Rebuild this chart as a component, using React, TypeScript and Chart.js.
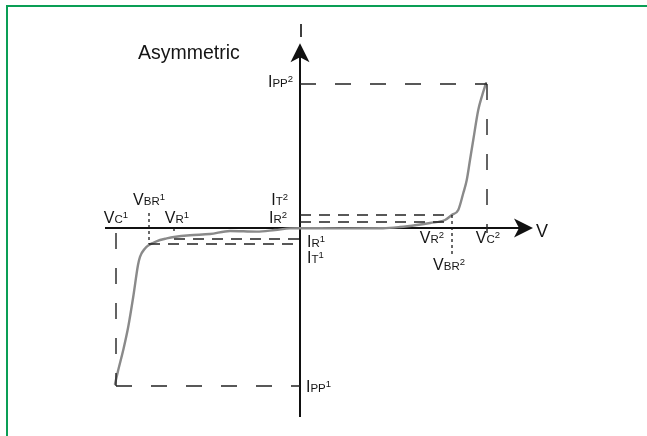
import React, { useEffect, useRef } from "react";
import { Chart, registerables } from "chart.js";

Chart.register(...registerables);

// ---- I-V characteristic (schematic units: V on x, I on y) ----
const curveV = [-14.8, -14.54, -14.14, -13.74, -13.34, -12.96, -12.8, -12.4, -12.08, -11.74, -11.2, -10.66, -10.08, -8.8, -7.2, -5.6, -3.46, -2.0, -0.8, 0, 3.2, 6.64, 8.0, 9.34, 10.4, 11.6, 12.14, 12.66, 13.06, 13.34, 13.6, 13.86, 14.26, 14.54, 14.88];
const curveI = [-39, -35.5, -30.5, -24.7, -17.2, -9.25, -7.2, -5.1, -4.25, -3.7, -3.0, -2.6, -2.25, -1.8, -1.5, -0.75, -0.9, -0.5, -0.1, -0.05, -0.1, -0.05, 0.25, 0.75, 1.25, 2.0, 3.25, 4.5, 8.7, 12, 17, 22, 29.5, 32.8, 36.2];

// ---- characteristic points ----
const VC1 = -14.72;
const VBR1 = -12.08;
const VR1 = -10.08;
const VR2 = 10.4;
const VBR2 = 12.16;
const VC2 = 14.96;
const IPP1 = -39.5;
const IT1 = -4;
const IR1 = -2.75;
const IR2 = 1.5;
const IT2 = 3.25;
const IPP2 = 36;
const IR2_END_V = 11.6;

// ---- axes extents ----
const axisV = [-15.6, 17.8];
const axisI = [-47.25, 44];
const V_TIP = 18.64;
const I_TIP = 46.2;

// ---- view window ----
const viewV = [-24, 27.76];
const viewI = [-52, 57];

// ---- text labels: main letter, small letters, superscript, anchor V, anchor I, alignment ----
const labelMain = ["V", "V", "V", "I", "I", "I", "I", "V", "V", "V", "I", "I"];
const labelSmall = ["C", "BR", "R", "T", "R", "R", "T", "R", "C", "BR", "PP", "PP"];
const labelSup = ["1", "1", "1", "2", "2", "1", "1", "2", "2", "2", "2", "1"];
const labelV = [VC1, VBR1, -9.85, -0.96, -1.04, 0.56, 0.56, 10.56, 15.04, 11.92, -0.56, 0.48];
const labelI = [1.25, 5.75, 1.25, 5.75, 1.25, -4.75, -8.75, -3.75, -3.75, -10.5, 35.25, -41];
const labelAlign = ["center", "center", "center", "right", "right", "left", "left", "center", "center", "center", "right", "left"];

const axisLabelText = ["V", "I"];
const axisLabelV = [18.88, 0.08];
const axisLabelI = [-2.25, 47.8];

const titleText = "Asymmetric";
const titleV = -12.96;
const titleI = 42.25;

const FONT = "'Liberation Sans', Arial, Helvetica, sans-serif";

function seg(points: number[][], color: string, width: number, dash: number[]) {
  return {
    data: points.map(([x, y]) => ({ x, y })),
    showLine: true,
    pointRadius: 0,
    pointHoverRadius: 0,
    borderColor: color,
    borderWidth: width,
    borderDash: dash,
    borderCapStyle: "butt",
    fill: false,
  };
}

function drawArrow(ctx: CanvasRenderingContext2D, tx: number, ty: number, dir: "right" | "up") {
  const L = 19, H = 9.5, N = 14;
  ctx.beginPath();
  if (dir === "right") {
    ctx.moveTo(tx, ty);
    ctx.lineTo(tx - L, ty - H);
    ctx.lineTo(tx - N, ty);
    ctx.lineTo(tx - L, ty + H);
  } else {
    ctx.moveTo(tx, ty);
    ctx.lineTo(tx - H, ty + L);
    ctx.lineTo(tx, ty + N);
    ctx.lineTo(tx + H, ty + L);
  }
  ctx.closePath();
  ctx.fillStyle = "#111";
  ctx.fill();
}

function drawLabel(ctx: CanvasRenderingContext2D, main: string, small: string, sup: string, x: number, y: number, align: string) {
  const parts = [
    { t: main, size: 16, rise: 0 },
    { t: small, size: 11.5, rise: 0 },
    { t: sup, size: 9.5, rise: 5 },
  ];
  let total = 0;
  const widths = parts.map((p) => {
    ctx.font = `${p.size}px ${FONT}`;
    const w = ctx.measureText(p.t).width;
    total += w;
    return w;
  });
  let cx = x;
  if (align === "center") cx = x - total / 2;
  else if (align === "right") cx = x - total;
  ctx.textAlign = "left";
  ctx.textBaseline = "alphabetic";
  ctx.fillStyle = "#151515";
  parts.forEach((p, k) => {
    ctx.font = `${p.size}px ${FONT}`;
    ctx.fillText(p.t, cx, y - p.rise);
    cx += widths[k];
  });
}

const overlayPlugin = {
  id: "overlay",
  afterDatasetsDraw(chart: any) {
    const { ctx, scales } = chart;
    const px = (v: number) => scales.x.getPixelForValue(v);
    const py = (i: number) => scales.y.getPixelForValue(i);
    ctx.save();
    drawArrow(ctx, px(V_TIP), py(0), "right");
    drawArrow(ctx, px(0), py(I_TIP), "up");
    for (let k = 0; k < labelMain.length; k++) {
      drawLabel(ctx, labelMain[k], labelSmall[k], labelSup[k], px(labelV[k]), py(labelI[k]), labelAlign[k]);
    }
    ctx.fillStyle = "#151515";
    ctx.textBaseline = "alphabetic";
    ctx.font = `18px ${FONT}`;
    ctx.textAlign = "left";
    ctx.fillText(axisLabelText[0], px(axisLabelV[0]), py(axisLabelI[0]));
    ctx.textAlign = "center";
    ctx.fillText(axisLabelText[1], px(axisLabelV[1]), py(axisLabelI[1]));
    ctx.textAlign = "left";
    ctx.font = `19.5px ${FONT}`;
    ctx.fillText(titleText, px(titleV), py(titleI));
    ctx.restore();
  },
};

export default function App() {
  const ref = useRef<HTMLCanvasElement | null>(null);

  useEffect(() => {
    if (!ref.current) return;
    const longDash = [16, 19];
    const shortDash = [11, 8];
    const dotted = [3, 3];
    const guide = "#222";
    const datasets: any[] = [
      seg([[VC1, -1.25], [VC1, IPP1]], guide, 1.4, longDash),
      seg([[VC1, IPP1], [0, IPP1]], guide, 1.4, longDash),
      seg([[0, IPP2], [VC2, IPP2]], guide, 1.4, longDash),
      seg([[VC2, IPP2], [VC2, -1.25]], guide, 1.4, longDash),
      seg([[VBR1, IT1], [0, IT1]], guide, 1.3, shortDash),
      seg([[VR1, IR1], [0, IR1]], guide, 1.3, shortDash),
      seg([[0, IT2], [VBR2, IT2]], guide, 1.3, shortDash),
      seg([[0, IR2], [IR2_END_V, IR2]], guide, 1.3, shortDash),
      seg([[VBR1, 3.75], [VBR1, IT1]], "#1a1a1a", 1.3, dotted),
      seg([[VBR2, IT2], [VBR2, -7.25]], "#1a1a1a", 1.3, dotted),
      seg([[VR1, 0], [VR1, -1.25]], "#1a1a1a", 1.3, dotted),
      {
        ...seg(curveV.map((v, k) => [v, curveI[k]]), "#8a8a8a", 2.4, []),
        cubicInterpolationMode: "monotone",
        borderCapStyle: "round",
        borderJoinStyle: "round",
      },
      seg([[axisV[0], 0], [axisV[1], 0]], "#111", 2, []),
      seg([[0, axisI[0]], [0, axisI[1]]], "#111", 2, []),
    ];

    const chart = new Chart(ref.current, {
      type: "scatter",
      data: { datasets },
      options: {
        responsive: false,
        animation: false,
        devicePixelRatio: 1,
        events: [],
        layout: { padding: 0, autoPadding: false },
        plugins: { legend: { display: false }, tooltip: { enabled: false } },
        scales: {
          x: { type: "linear", min: viewV[0], max: viewV[1], display: false },
          y: { type: "linear", min: viewI[0], max: viewI[1], display: false },
        },
      },
      plugins: [overlayPlugin],
    } as any);
    return () => chart.destroy();
  }, []);

  return (
    <div style={{ position: "fixed", left: 0, top: 0, width: 647, height: 436, background: "#fff", overflow: "hidden" }}>
      <div
        style={{
          position: "absolute",
          left: 6,
          top: 5,
          width: 700,
          height: 500,
          borderTop: "2px solid #0a9e55",
          borderLeft: "2px solid #0a9e55",
        }}
      />
      <canvas ref={ref} width={647} height={436} style={{ position: "absolute", left: 0, top: 0, width: 647, height: 436 }} />
    </div>
  );
}
